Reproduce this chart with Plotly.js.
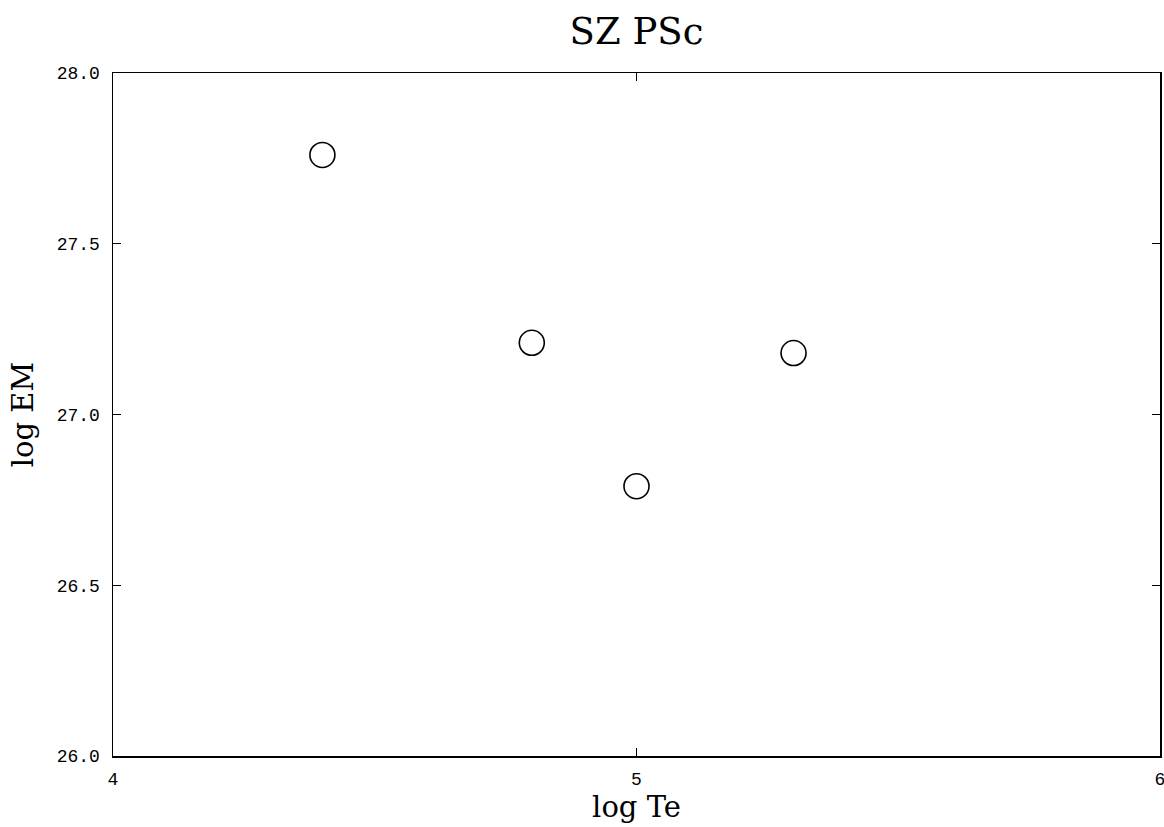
<!DOCTYPE html>
<html>
<head>
<meta charset="utf-8">
<script src="https://cdn.plot.ly/plotly-3.0.1.min.js"></script>
<style>html,body{margin:0;padding:0;background:#fff;}#chart{width:1164px;height:827px;}</style>
</head>
<body>
<div id="chart"></div>
<script>
const logTe = [4.40, 4.80, 5.00, 5.30];
const logEM = [27.76, 27.21, 26.79, 27.18];
const xTicks = [4, 5, 6];
const yTicks = [26.0, 26.5, 27.0, 27.5, 28.0];

const trace = {
  x: logTe, y: logEM, mode: 'markers', type: 'scatter',
  marker: {symbol: 'circle-open', size: 25, color: '#000', line: {width: 1.6, color: '#000'}},
  hoverinfo: 'skip'
};
const tickFont = {family: 'Liberation Mono, DejaVu Sans Mono, monospace', size: 18, color: '#000'};
const titleFont = {family: 'DejaVu Serif, Liberation Serif, serif', size: 29, color: '#000'};
const layout = {
  width: 1164, height: 827,
  margin: {l: 113, r: 4, t: 73, b: 71},
  paper_bgcolor: '#fff', plot_bgcolor: '#fff',
  showlegend: false,
  title: {text: 'SZ PSc', font: {family: 'DejaVu Serif, Liberation Serif, serif', size: 37, color: '#000'},
          x: 0.5, xref: 'paper', xanchor: 'center', y: 1 - 31/827, yanchor: 'middle', yref: 'container'},
  xaxis: {
    range: [4, 6], tickvals: xTicks, ticktext: xTicks.map(String),
    showline: true, linecolor: '#000', linewidth: 1.5, mirror: 'allticks',
    ticks: 'inside', ticklen: 8, tickwidth: 1.3, tickcolor: '#000',
    showgrid: false, zeroline: false, tickfont: tickFont, ticklabelstandoff: 6,
    ticklabeloverflow: 'allow',
    title: {text: 'log Te', font: titleFont, standoff: 6}
  },
  yaxis: {
    range: [26, 28], tickvals: yTicks, ticktext: yTicks.map(v => v.toFixed(1)),
    showline: true, linecolor: '#000', linewidth: 1.5, mirror: 'allticks',
    ticks: 'inside', ticklen: 8, tickwidth: 1.3, tickcolor: '#000',
    showgrid: false, zeroline: false, tickfont: tickFont, ticklabelstandoff: 8,
    title: {text: 'log EM', font: titleFont, standoff: 14}
  }
};
Plotly.newPlot('chart', [trace], layout, {staticPlot: true, displayModeBar: false});
</script>
</body>
</html>
